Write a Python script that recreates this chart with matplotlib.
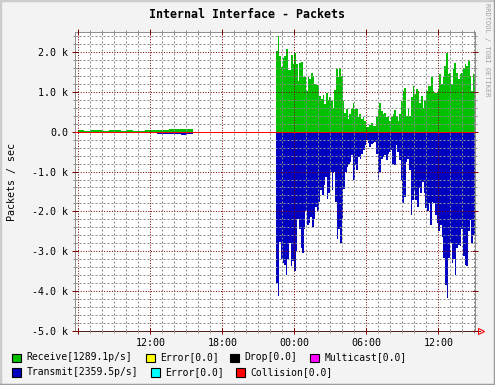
import numpy as np
import matplotlib.pyplot as plt
from matplotlib.patches import Rectangle
from matplotlib.ticker import MultipleLocator

title = "Internal Interface - Packets"
ylabel = "Packets / sec"
watermark = "RRDTOOL / TOBI OETIKER"

# hours since midnight of day one
hour_ticks = [6, 12, 18, 24, 30, 36]
hour_labels = ["", "12:00", "18:00", "00:00", "06:00", "12:00"]
y_ticks = [2, 1, 0, -1, -2, -3, -4, -5]
y_labels = ["2.0 k", "1.0 k", "0.0", "-1.0 k", "-2.0 k", "-3.0 k", "-4.0 k", "-5.0 k"]

early_start, early_end = 6.0, 15.55
late_start, late_end = 22.47, 39.02

# packets/sec in thousands
rx_early = [0.03, 0.02, 0.03, 0.03, 0.02, 0.03, 0.03, 0.02, 0.03, 0.02,
            0.02, 0.03, 0.03, 0.04, 0.05, 0.06, 0.07, 0.07, 0.06]
tx_early = [0.0, 0.01, 0.0, 0.0, 0.0, 0.0, 0.0, 0.0, 0.0, 0.0,
            0.04, 0.03, 0.04, 0.05, 0.06, 0.07, 0.07, 0.08, 0.07]

rx_late = [2.02, 2.4, 1.9, 1.62, 1.86, 1.9, 2.07, 1.55, 1.55, 1.92, 1.7, 1.98,
           1.69, 1.27, 1.73, 1.76, 1.36, 1.36, 1.02, 1.36, 1.32, 1.46, 1.40, 1.2,
           1.18, 1.18, 0.9, 0.82, 0.92, 0.69, 0.98, 0.78, 0.87, 0.78, 0.6, 1.04,
           1.57, 1.36, 1.6, 1.4, 0.78, 0.48, 0.57, 0.32, 0.44, 0.57, 0.73, 0.57,
           0.57, 0.36, 0.44, 0.32, 0.37, 0.28, 0.11, 0.12, 0.17, 0.21, 0.15,
           0.15, 0.36, 0.57, 0.73, 0.52, 0.44, 0.48, 0.37, 0.4, 0.28, 0.36, 0.44,
           0.54, 0.4, 0.28, 0.44, 0.78, 1.02, 1.1, 0.4, 0.59, 0.4, 0.86, 1.15,
           0.94, 1.07, 1.02, 0.73, 0.9, 0.59, 0.78, 1.02, 1.15, 1.15, 1.36, 1.02,
           0.98, 0.98, 1.07, 1.44, 1.19, 1.36, 1.65, 1.98, 1.44, 1.48, 1.19, 1.57,
           1.73, 1.48, 1.32, 1.44, 1.48, 1.6, 1.69, 1.65, 1.78, 1.4, 1.02, 1.44]
tx_late = [3.8, 4.13, 2.76, 3.2, 3.3, 3.35, 3.6, 3.2, 2.8, 3.38, 3.25, 3.5,
           3.0, 2.2, 2.43, 2.93, 3.05, 2.43, 2.0, 2.34, 2.3, 2.13, 2.38, 2.18,
           1.88, 1.99, 1.76, 1.47, 1.58, 1.34, 1.13, 1.68, 1.55, 1.0, 1.47, 1.0,
           1.76, 2.68, 2.43, 2.8, 2.18, 1.43, 1.0, 0.88, 0.8, 0.76, 0.59, 1.22,
           0.84, 0.97, 0.63, 0.68, 0.55, 0.47, 0.34, 0.22, 0.28, 0.38, 0.3, 0.28,
           0.26, 0.55, 1.22, 1.0, 0.68, 0.63, 0.59, 0.72, 0.55, 0.5, 0.47, 0.8,
           0.84, 0.34, 0.5, 0.72, 1.22, 1.8, 1.63, 0.76, 0.68, 0.97, 2.09, 1.72,
           1.5, 1.72, 1.88, 1.42, 1.55, 1.26, 1.55, 1.92, 2.0, 1.8, 2.34, 1.76,
           1.8, 2.09, 2.3, 2.5, 2.34, 2.63, 3.17, 3.84, 4.18, 3.17, 2.8, 3.3,
           3.2, 3.6, 2.93, 2.84, 2.88, 2.43, 3.13, 3.34, 3.38, 2.5, 2.22, 2.8, 2.59]

legend_rows = [
    [("Receive[1289.1p/s]", "#00C000"), ("Error[0.0]", "#FFFF00"),
     ("Drop[0.0]", "#000000"), ("Multicast[0.0]", "#FF00FF")],
    [("Transmit[2359.5p/s]", "#0000C0"), ("Error[0.0]", "#00FFFF"),
     ("Collision[0.0]", "#FF0000")],
]
legend_x = [[12, 146, 230, 310], [12, 151, 236]]
legend_y = [357.5, 372]

W, H = 495, 385
mono = "DejaVu Sans Mono"
rx_color = "#00C000"
tx_color = "#0000C0"
onepx = 0.72

fig = plt.figure(figsize=(W / 100, H / 100), dpi=100, facecolor="#F3F3F3")
ax = fig.add_axes([75 / W, 1 - 331 / H, 400 / W, 299 / H])
ax.set_facecolor("white")


def px(x, y):
    return x / W, 1 - y / H


for start, end, rx, tx in [(early_start, early_end, rx_early, tx_early),
                           (late_start, late_end, rx_late, tx_late)]:
    ax.stairs(rx, np.linspace(start, end, len(rx) + 1), baseline=0,
              fill=True, color=rx_color, lw=0)
    ax.stairs(-np.array(tx), np.linspace(start, end, len(tx) + 1), baseline=0,
              fill=True, color=tx_color, lw=0)

ax.set_xlim(5.72, 39.06)
ax.set_ylim(-5, 2.5)

ax.set_xticks(hour_ticks)
ax.set_xticklabels(hour_labels)
ax.set_yticks(y_ticks)
ax.set_yticklabels(y_labels)
ax.xaxis.set_minor_locator(MultipleLocator(1))
ax.yaxis.set_minor_locator(MultipleLocator(0.2))

ax.grid(which="minor", color="#8c8c8c", linestyle=(0, (2, 2)), lw=onepx)
ax.grid(which="major", color="#7a0000", linestyle=(0, (1, 1.6)), lw=onepx)
ax.set_axisbelow(False)

ax.tick_params(which="major", color="#800000", length=4, width=onepx,
               direction="inout", top=True, right=True, labelsize=7.2, pad=3)
ax.tick_params(which="minor", color="#909090", length=3, width=onepx,
               direction="inout", top=True, right=True)
for lab in ax.get_xticklabels() + ax.get_yticklabels():
    lab.set_family(mono)

for side in ["left", "top", "right"]:
    ax.spines[side].set_color("#909090")
    ax.spines[side].set_linewidth(onepx)
ax.spines["bottom"].set_color("#502020")
ax.spines["bottom"].set_linewidth(onepx)

ax.axhline(0, color="#FF0000", lw=onepx, zorder=3)

# axis arrow
ax.plot([1.0, 1.012], [0, 0], color="#502020", lw=onepx,
        transform=ax.transAxes, clip_on=False)
ax.plot([1.015], [0], marker=">", markersize=4.5, markerfacecolor="none",
        markeredgecolor="#FF0000", markeredgewidth=0.8,
        transform=ax.transAxes, clip_on=False)

fig.text(*px(247, 15), title, family=mono, weight="bold", fontsize=8.4,
         ha="center", va="center")
fig.text(*px(12, 182), ylabel, family=mono, fontsize=7.2, rotation=90,
         ha="center", va="center")
fig.text(*px(487, 50), watermark, family=mono, fontsize=5, rotation=-90,
         color="#a0a0a0", ha="center", va="center")

for row, xs, y in zip(legend_rows, legend_x, legend_y):
    for (label, color), x in zip(row, xs):
        x0, y0 = px(x, y + 4.5)
        fig.add_artist(Rectangle((x0, y0), 8.5 / W, 8.5 / H, transform=fig.transFigure,
                                 facecolor=color, edgecolor="black", lw=0.8))
        fig.text(*px(x + 14.5, y), label, family=mono, fontsize=7,
                 ha="left", va="center")

# 3d frame around the picture
fig.add_artist(plt.Line2D([0, 0], [0, 1], color="#CCCCCC", lw=2.5, transform=fig.transFigure))
fig.add_artist(plt.Line2D([0, 1], [1, 1], color="#CCCCCC", lw=2.5, transform=fig.transFigure))
fig.add_artist(plt.Line2D([1, 1], [0, 1], color="#9C9C9C", lw=2.5, transform=fig.transFigure))
fig.add_artist(plt.Line2D([0, 1], [0, 0], color="#9C9C9C", lw=2.5, transform=fig.transFigure))

fig.savefig("out.png", dpi=100, facecolor=fig.get_facecolor())
